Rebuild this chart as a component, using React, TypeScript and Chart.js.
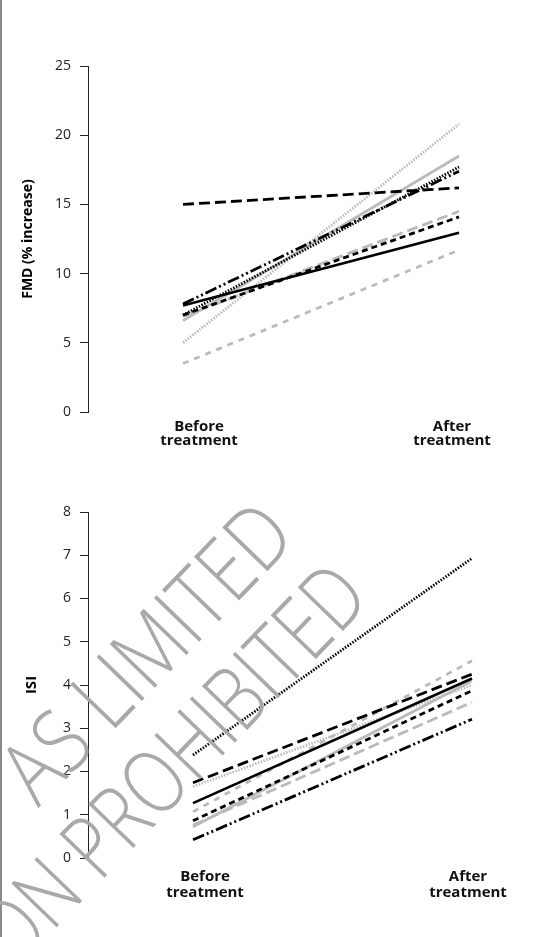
import React, { useEffect, useRef } from 'react';
import { Chart, registerables } from 'chart.js';

Chart.register(...registerables);
Chart.defaults.font.family = "'Open Sans', 'Noto Sans', sans-serif";

// ---- Data ----
const CATEGORY_LABELS = [['Before', 'treatment'], ['After', 'treatment']];

// series order: black solid, black long dash, black short dash, black dotted,
// black dash-dot-dot, grey solid, grey long dash, grey short dash, grey dotted
const FMD_BEFORE = [7.7, 15.0, 7.0, 7.0, 7.8, 6.6, 6.9, 3.5, 5.0];
const FMD_AFTER = [12.95, 16.2, 14.1, 17.7, 17.4, 18.5, 14.5, 11.7, 20.8];
const FMD_TICKS = [0, 5, 10, 15, 20, 25];

const ISI_BEFORE = [1.27, 1.74, 0.86, 2.38, 0.42, 0.72, 0.76, 1.07, 1.65];
const ISI_AFTER = [4.15, 4.25, 3.87, 6.93, 3.21, 4.1, 3.6, 4.56, 4.0];
const ISI_TICKS = [0, 1, 2, 3, 4, 5, 6, 7, 8];

const WATERMARK_LINES = ['AS LIMITED', 'ON PROHIBITED'];

// ---- Styles ----
const BLACK = '#000000';
const GREY = '#bababa';
const LINE_STYLES = [
  { color: BLACK, dash: [] as number[], width: 2.6 },
  { color: BLACK, dash: [11, 5], width: 2.8 },
  { color: BLACK, dash: [6, 4], width: 2.8 },
  { color: BLACK, dash: [1.5, 1.5], width: 2.8 },
  { color: BLACK, dash: [12, 3, 2, 3, 2, 3], width: 2.8 },
  { color: GREY, dash: [] as number[], width: 2.8 },
  { color: GREY, dash: [11, 5], width: 2.8 },
  { color: GREY, dash: [6, 6], width: 2.8 },
  { color: GREY, dash: [1.5, 1.5], width: 2.8 },
];

type PanelProps = {
  top: number;
  height: number;
  before: number[];
  after: number[];
  yTicks: number[];
  yTitle: string;
  titleSize: number;
  titleCenterX: number;
  areaTop: number;
  areaBottom: number;
  beforePx: number;
  afterPx: number;
  labelPx: number[];
  labelPad: number;
  labelLineHeight: number;
};

const AREA_LEFT = 88;
const AREA_RIGHT = 520;
const WIDTH = 553;

function Panel(p: PanelProps) {
  const ref = useRef<HTMLCanvasElement | null>(null);
  useEffect(() => {
    const canvas = ref.current;
    if (!canvas) return;
    const k = p.afterPx - p.beforePx;
    const xMin = -(p.beforePx - AREA_LEFT) / k;
    const xMax = (AREA_RIGHT - p.beforePx) / k;
    const labelVals = p.labelPx.map((px) => (px - p.beforePx) / k);
    const chart = new Chart(canvas, {
      type: 'line',
      data: {
        datasets: p.before.map((b, i) => ({
          data: [
            { x: 0, y: b },
            { x: 1, y: p.after[i] },
          ],
          borderColor: LINE_STYLES[i].color,
          borderDash: LINE_STYLES[i].dash,
          borderWidth: LINE_STYLES[i].width,
          borderCapStyle: 'butt' as const,
          pointRadius: 0,
          fill: false,
          tension: 0,
          clip: false as any,
        })),
      },
      options: {
        responsive: false,
        animation: false,
        layout: {
          padding: {
            top: p.areaTop - p.top,
            left: 0,
            right: WIDTH - AREA_RIGHT,
            bottom: 0,
          },
        },
        plugins: { legend: { display: false }, tooltip: { enabled: false } },
        scales: {
          x: {
            type: 'linear',
            min: xMin,
            max: xMax,
            bounds: 'data',
            grid: { display: false, drawTicks: false },
            border: { display: false },
            afterBuildTicks: (s: any) => {
              s.ticks = labelVals.map((v) => ({ value: v }));
            },
            afterFit: (s: any) => {
              s.height = p.top + p.height - p.areaBottom;
            },
            ticks: {
              autoSkip: false,
              maxRotation: 0,
              minRotation: 0,
              padding: p.labelPad,
              color: '#111',
              font: { size: 15, weight: 'bold', lineHeight: p.labelLineHeight },
              callback: (_v: any, i: number) => CATEGORY_LABELS[i],
            },
          },
          y: {
            type: 'linear',
            min: p.yTicks[0],
            max: p.yTicks[p.yTicks.length - 1],
            afterBuildTicks: (s: any) => {
              s.ticks = p.yTicks.map((v) => ({ value: v }));
            },
            afterFit: (s: any) => {
              s.width = AREA_LEFT;
            },
            grid: {
              display: true,
              drawOnChartArea: false,
              drawTicks: true,
              tickLength: 8,
              color: '#222',
              lineWidth: 1,
            },
            border: { display: true, color: '#222', width: 1 },
            ticks: {
              padding: 9,
              color: '#222',
              font: { size: 14 },
            },
            title: {
              display: true,
              text: p.yTitle,
              color: '#000',
              font: { size: p.titleSize, weight: 'bold', lineHeight: 1.2 },
              padding: { top: p.titleCenterX - (p.titleSize * 1.2) / 2, bottom: 0 },
            },
          },
        },
      } as any,
    });
    return () => chart.destroy();
  }, []);
  return (
    <canvas
      ref={ref}
      width={WIDTH}
      height={p.height}
      style={{ position: 'absolute', left: 0, top: p.top, width: WIDTH, height: p.height }}
    />
  );
}

const wmStyle = (sx: number): React.CSSProperties => ({
  position: 'absolute',
  fontFamily: "'Open Sans', sans-serif",
  fontWeight: 300,
  fontSize: 88,
  lineHeight: 1,
  color: '#a9a9a9',
  whiteSpace: 'nowrap',
  transform: `translate(-50%, -50%) rotate(-46deg) scale(${sx}, 1)`,
  pointerEvents: 'none',
});

export default function App() {
  return (
    <div
      style={{
        position: 'fixed',
        left: 0,
        top: 0,
        width: WIDTH,
        height: 937,
        background: '#fff',
        overflow: 'hidden',
      }}
    >
      <div style={{ position: 'absolute', left: 0, top: 0, width: 2, height: 937, background: '#8a8a8a' }} />
      <Panel
        top={0}
        height={460}
        before={FMD_BEFORE}
        after={FMD_AFTER}
        yTicks={FMD_TICKS}
        yTitle="FMD (% increase)"
        titleSize={14}
        titleCenterX={28}
        areaTop={66}
        areaBottom={412}
        beforePx={183}
        afterPx={459}
        labelPx={[199, 452]}
        labelPad={8}
        labelLineHeight={0.94}
      />
      <Panel
        top={460}
        height={477}
        before={ISI_BEFORE}
        after={ISI_AFTER}
        yTicks={ISI_TICKS}
        yTitle="ISI"
        titleSize={15}
        titleCenterX={32}
        areaTop={512}
        areaBottom={858}
        beforePx={193}
        afterPx={472}
        labelPx={[205, 468]}
        labelPad={11}
        labelLineHeight={1.07}
      />
      <div style={{ ...wmStyle(0.84), left: 144, top: 650 }}>{WATERMARK_LINES[0]}</div>
      <div style={{ ...wmStyle(0.8), left: 169, top: 762 }}>{WATERMARK_LINES[1]}</div>
    </div>
  );
}
